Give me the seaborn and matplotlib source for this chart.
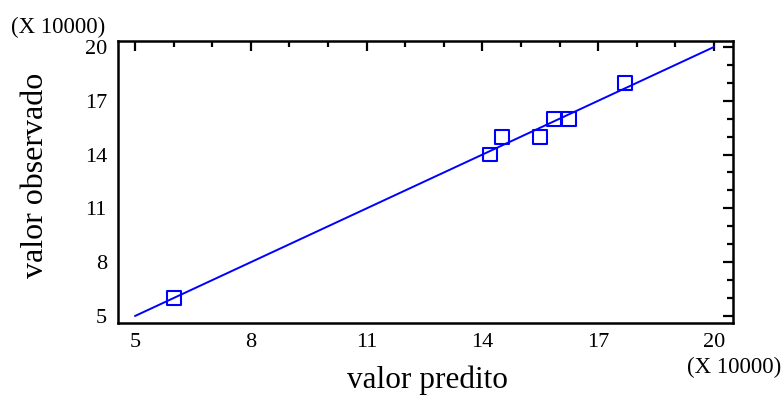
import matplotlib
matplotlib.use("Agg")
import matplotlib.pyplot as plt
from matplotlib.ticker import MultipleLocator
import seaborn as sns
import pandas as pd

predito = [6.0, 14.2, 14.5, 15.5, 15.85, 16.25, 17.7]
observado = [6, 14, 15, 15, 16, 16, 18]
line_x = [5, 20]
line_y = [5, 20]
ticks = [5, 8, 11, 14, 17, 20]

sns.set_theme(style="white")
plt.rcParams['font.family'] = ['Liberation Serif', 'DejaVu Serif']
plt.rcParams['text.color'] = 'black'
plt.rcParams['axes.labelcolor'] = 'black'

fig = plt.figure(figsize=(7.83, 3.97), dpi=100)
ax = fig.add_axes([118/783, 1-323/397, (733-118)/783, (323-41)/397])

df = pd.DataFrame({"x": predito, "y": observado})
dl = pd.DataFrame({"x": line_x, "y": line_y})
sns.lineplot(data=dl, x="x", y="y", ax=ax, color="#0000ff", linewidth=1.4)
sns.scatterplot(data=df, x="x", y="y", ax=ax, marker="s", s=100,
                facecolor="none", edgecolor="#0000ff", linewidth=1.5, zorder=3)

ax.set_xlim(4.56, 20.49)
ax.set_ylim(4.61, 20.33)
ax.set_xticks(ticks)
ax.set_yticks(ticks)
ax.set_xticklabels([str(t) for t in ticks])
ax.set_yticklabels([str(t) for t in ticks])
ax.xaxis.set_minor_locator(MultipleLocator(1))
ax.yaxis.set_minor_locator(MultipleLocator(1))
ax.tick_params(which="both", direction="in", top=True, right=True, colors="black",
               labelcolor="black", labelsize=16, width=1.6)
ax.tick_params(which="major", length=7)
ax.tick_params(which="minor", length=4)
ax.tick_params(axis="y", which="major", pad=8)
ax.tick_params(axis="x", which="major", pad=7)
for sp in ax.spines.values():
    sp.set_linewidth(1.8)
    sp.set_color("black")
    sp.set_visible(True)

ax.set_xlabel("")
ax.set_ylabel("")
fig.text(427/783, 1-380/397, "valor predito", fontsize=22.5, ha="center", va="center",
         color="black")
fig.text(36/783, 1-175/397, "valor observado", fontsize=23, ha="center", va="center",
         rotation=90, color="black")
fig.text(11/783, 1-27/397, "(X 10000)", fontsize=16.5, va="center", ha="left",
         color="black")
fig.text(781/783, 1-367/397, "(X 10000)", fontsize=16.5, va="center", ha="right",
         color="black")

fig.savefig("out.png", dpi=100)
